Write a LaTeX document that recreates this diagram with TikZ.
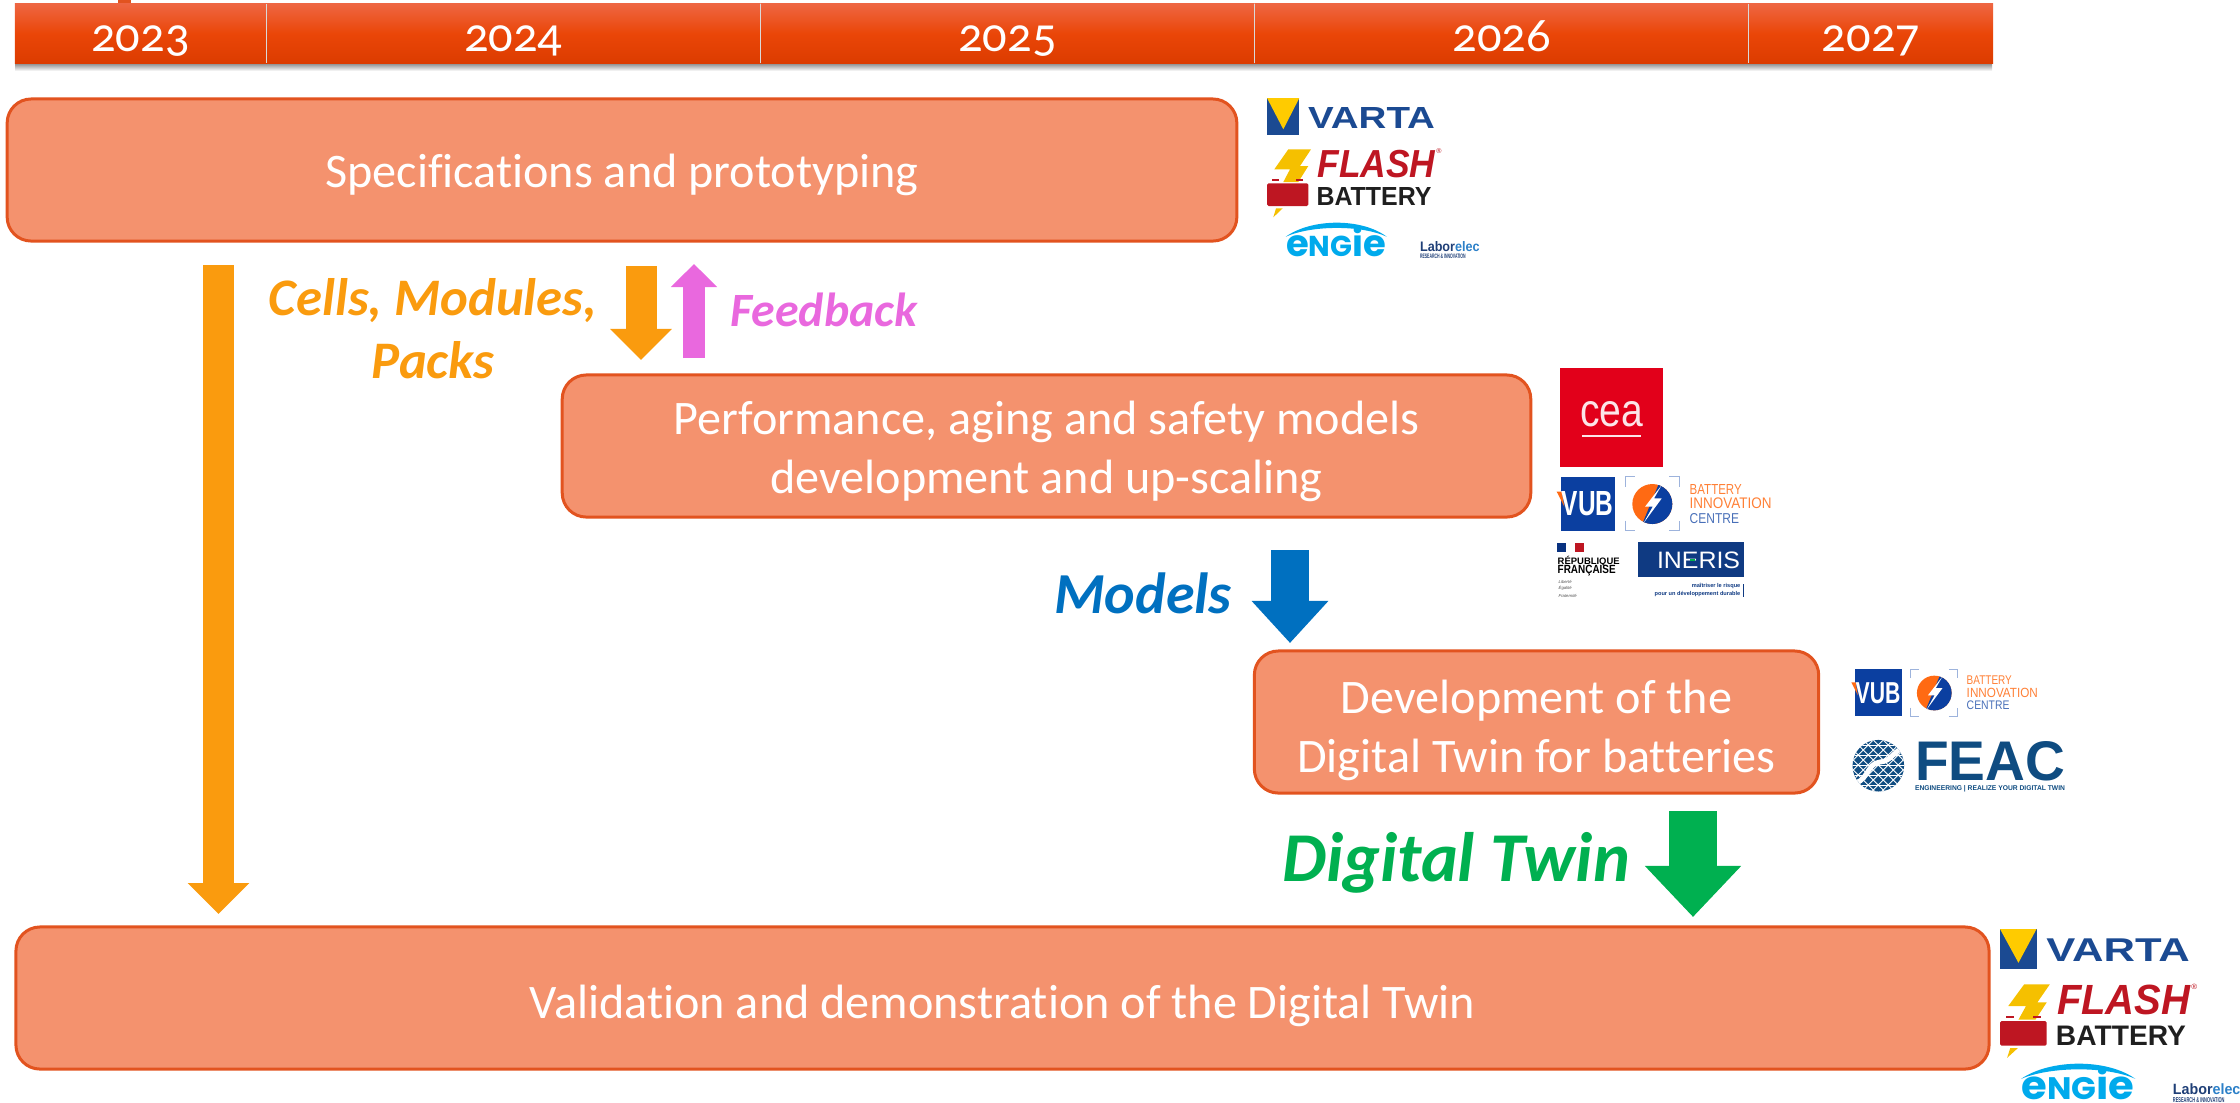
\documentclass[tikz,border=0pt]{standalone}
\usepackage{fontspec}
\setmainfont[Ligatures=NoCommon]{Carlito}
\newfontfamily\yearfont[Numbers=OldStyle]{Carlito}
\newfontfamily\logofont{Liberation Sans}
\newfontfamily\roundfont{Poppins}
\usetikzlibrary{arrows.meta, positioning, calc}

% one reference pixel
\newdimen\pxunit
\pxunit=0.01cm
\newcommand{\fittext}[3]{\resizebox{#1\pxunit}{#2\pxunit}{#3}}
\newcommand{\textdrop}[1]{\rule{0pt}{#1cm}}

\tikzset{
    logotext/.style={inner sep=0pt, font=\logofont, transform shape},
    companies/.pic={
        % Varta
        \fill[vartablue] (0,0) rectangle (32.3,36.7);
        \fill[vartayellow] (0,0) -- (32.3,0) -- (16.3,31.3) -- cycle;
        \node[logotext, vartablue] (varta) at (104.5,19.6) {\fittext{127}{21}{\bfseries VARTA}};
        % Flash Battery
        \fill[flashyellow] (21.3,51.3) -- (44,51.3) -- (33,68) -- (41.3,68) -- (31.3,84) -- (16.3,84) -- (23,71.3) -- (7.3,71.3) -- cycle;
        \fill[flashred] (5.3,80.7) rectangle (12.3,82.7);
        \fill[flashred] (29,80.7) rectangle (36.3,82.7);
        \fill[flashred, rounded corners=1.5\pxunit] (0,85.3) rectangle (41.3,108);
        \fill[flashyellow] (9,110.3) -- (15.7,110.3) -- (6.3,119.3) -- cycle;
        \node[logotext, flashred] (flash) at (109.5,65.7) {\fittext{118}{27.3}{\bfseries\itshape FLASH}};
        \node[logotext, flashred, font=\logofont\fontsize{2}{2}\selectfont] (flashmark) at (172,53.5) {®};
        \node[logotext, black!88] (battery) at (107,98.7) {\fittext{115}{18}{\bfseries BATTERY}};
        % Engie
        \fill[engieblue] (18.7,138.7) .. controls (45,120) and (95,120) .. (119.7,138.7) .. controls (95,127) and (45,127) .. cycle;
        \node[logotext, engieblue, font=\roundfont\bfseries, anchor=south] (engie) at (69,159) {\resizebox{100\pxunit}{!}{e\scalebox{.78}{NG}ie}};
        % Laborelec
        \node[logotext, labordark, anchor=west] (laborelec) at (152.3,148.7) {\fittext{59.7}{10}{\bfseries Labor\textcolor{laborlight}{elec}}};
        \node[logotext, labordark, anchor=west] (laborsub) at (152.3,158.5) {\fittext{45.7}{4.5}{\bfseries RESEARCH \& INNOVATION}};
    },
    vubgroup/.pic={
        % Vub
        \fill[vubblue] (0,0) rectangle (54,54);
        \fill[bicorange] (-4.3,15) -- (0.7,15) -- (3.3,30) -- cycle;
        \node[logotext, white] (vub) at (26.5,27) {\fittext{51.6}{24}{\bfseries VUB}};
        % Battery Innovation Centre
        \draw[bicframe, line width=0.01cm] (64,10) |- (74,0);
        \draw[bicframe, line width=0.01cm] (108,0) -| (118.3,10);
        \draw[bicframe, line width=0.01cm] (64,44) |- (74,54);
        \draw[bicframe, line width=0.01cm] (108,54) -| (118.3,44);
        \fill[bicorange] (91.3,27.3) circle (20\pxunit);
        \begin{scope}
            \clip (91.3,27.3) circle (20\pxunit);
            \fill[vubblue] (100.7,0) -- (130,0) -- (130,60) -- (76,60) -- cycle;
        \end{scope}
        \fill[white] (100.7,8.3) -- (84,30) -- (91.7,30) -- (82.3,46.7) -- (100.7,21.7) -- (93,21.7) -- cycle;
        \node[logotext, bicorange!85, anchor=west] (bicline a) at (128,12.6) {\fittext{52}{10}{BATTERY}};
        \node[logotext, bicorange!85, anchor=west] (bicline b) at (128,27) {\fittext{82}{10.7}{INNOVATION}};
        \node[logotext, vubblue!75, anchor=west] (bicline c) at (128,41.6) {\fittext{49.3}{10}{CENTRE}};
    }
}

\begin{document}
\begin{tikzpicture}[x=0.01cm, y=-0.01cm,
    every node/.style={font=\fontsize{13.7}{16.7}\selectfont},
    taskbox/.style={draw=boxedge, fill=boxfill, line width=0.03cm, rounded corners=0.24cm, text=white, align=center, inner sep=0pt, minimum height=1.42cm},
    yearcell/.style={top color=yeartop, bottom color=yearbottom, middle color=yearmid, minimum height=0.59cm, text height=0.35cm, text depth=0pt, inner sep=0pt, outer sep=0pt, text=white, font=\yearfont\fontsize{13.8}{13.8}\selectfont},
    flowlabel/.style={font=\bfseries\itshape\fontsize{#1}{#1}\selectfont, align=center, inner sep=0pt}]
    % Define consistent colors
    \definecolor{boxfill}{RGB}{244,146,110}
    \definecolor{boxedge}{RGB}{226,83,31}
    \definecolor{yeartop}{RGB}{238,102,66}
    \definecolor{yearmid}{RGB}{234,70,8}
    \definecolor{yearbottom}{RGB}{220,60,0}
    \definecolor{flowamber}{RGB}{250,155,14}
    \definecolor{flowpink}{RGB}{233,104,222}
    \definecolor{flowblue}{RGB}{0,112,192}
    \definecolor{flowgreen}{RGB}{0,176,80}
    \definecolor{vartablue}{RGB}{27,74,146}
    \definecolor{vartayellow}{RGB}{255,203,0}
    \definecolor{flashred}{RGB}{190,22,34}
    \definecolor{flashyellow}{RGB}{245,192,0}
    \definecolor{engieblue}{RGB}{0,170,236}
    \definecolor{labordark}{RGB}{31,63,119}
    \definecolor{laborlight}{RGB}{44,128,200}
    \definecolor{vubblue}{RGB}{11,63,160}
    \definecolor{bicorange}{RGB}{255,106,19}
    \definecolor{bicframe}{RGB}{157,179,220}
    \definecolor{cearred}{RGB}{226,0,26}
    \definecolor{inerisblue}{RGB}{15,58,130}
    \definecolor{feacblue}{RGB}{15,76,129}

    \useasboundingbox (0,0) rectangle (2240,1102);

    % Timeline
    \fill[boxedge] (118,0) rectangle (131,3);
    \shade[top color=black!50, bottom color=white] (15,62.5) rectangle (1992,71);
    \node[yearcell, minimum width=2.51cm] (y2023) at (140.5,33.5) {2023};
    \node[yearcell, minimum width=4.94cm, right=0pt of y2023] (y2024) {2024};
    \node[yearcell, minimum width=4.94cm, right=0pt of y2024] (y2025) {2025};
    \node[yearcell, minimum width=4.94cm, right=0pt of y2025] (y2026) {2026};
    \node[yearcell, minimum width=2.44cm, right=0pt of y2026] (y2027) {2027};
    \foreach \cell in {y2023,y2024,y2025,y2026}
        \draw[white!70!gray, line width=0.01cm] (\cell.north east) -- (\cell.south east);

    % Task boxes
    \node[taskbox, minimum width=12.29cm] (specs) at (622,170) {\textdrop{0.44}Specifications and prototyping};
    \node[taskbox, minimum width=9.68cm] (models) at (1046.5,446) {\textdrop{0.44}Performance, aging and safety models\\development and up-scaling};
    \node[taskbox, minimum width=5.64cm] (twin) at (1536.5,722) {\textdrop{0.5}Development of the\\Digital Twin for batteries};
    \node[taskbox, minimum width=19.72cm] (validation) at (1002.5,998) {\textdrop{0.5}Validation and demonstration of the Digital Twin};

    % Arrow ends
    \coordinate (long top) at (218.5,265);
    \coordinate (long tip) at (218.5,914);
    \coordinate (cells top) at (641,266);
    \coordinate (cells tip) at (641,360);
    \coordinate (feed bottom) at (694,358);
    \coordinate (feed tip) at (694,264);
    \coordinate (model top) at (1290,550);
    \coordinate (model tip) at (1290,643);
    \coordinate (twin top) at (1693,811);
    \coordinate (twin tip) at (1693,917);

    % Block arrows
    \draw[flowamber, line width=0.31cm, -{Triangle[length=0.31cm, width=0.6cm]}] (long top) -- (long tip);
    \draw[flowamber, line width=0.31cm, -{Triangle[length=0.31cm, width=0.6cm]}] (cells top) -- (cells tip);
    \draw[flowpink, line width=0.22cm, -{Triangle[length=0.23cm, width=0.45cm]}] (feed bottom) -- (feed tip);
    \draw[flowblue, line width=0.38cm, -{Triangle[length=0.42cm, width=0.74cm]}] (model top) -- (model tip);
    \draw[flowgreen, line width=0.48cm, -{Triangle[length=0.51cm, width=0.93cm]}] (twin top) -- (twin tip);

    % Labels for arrows
    \node[flowlabel=15, flowamber] (cellslabel) at (433,329) {Cells, Modules,\\[0.2em]Packs};
    \node[flowlabel=13.6, flowpink] (feedlabel) at (824,310) {Feedback};
    \node[flowlabel=16.5, flowblue] (modellabel) at (1143,593) {Models};
    \node[flowlabel=19.9, flowgreen] (twinlabel) at (1456,863) {Digital Twin};

    % Partner logos
    \pic (partners a) at (1267,98) {companies};
    \pic (partners b) [xscale=1.13, yscale=1.08] at (2000,929) {companies};

    % Cea
    \fill[cearred] (1560,368) rectangle (1663,467);
    \node[logotext, white!90!cearred] (cea) at (1611.5,414.5) {\fittext{63}{25}{cea}};
    \fill[white!90!cearred] (1582,434.7) rectangle (1641,436.7);

    \pic (vub a) at (1561,476.7) {vubgroup};
    \pic (vub b) [scale=0.868] at (1855,669.3) {vubgroup};

    % Republique francaise
    \fill[vubblue!80!black] (1557,542.7) rectangle (1566,552.3);
    \fill[flashred] (1575,542.7) rectangle (1584,552.3);
    \node[logotext, anchor=west] (republique) at (1557,560.8) {\fittext{62}{8.3}{\bfseries RÉPUBLIQUE}};
    \node[logotext, anchor=west] (francaise) at (1557,570.8) {\fittext{58}{8.3}{\bfseries FRANÇAISE}};
    \node[logotext, anchor=west, text=black!70, font=\logofont\itshape\fontsize{1.2}{1.2}\selectfont] (liberte) at (1558,581.7) {Liberté};
    \node[logotext, anchor=west, text=black!70, font=\logofont\itshape\fontsize{1.2}{1.2}\selectfont] (egalite) at (1558,588.3) {Égalité};
    \node[logotext, anchor=west, text=black!70, font=\logofont\itshape\fontsize{1.2}{1.2}\selectfont] (fraternite) at (1558,595.7) {Fraternité};

    % Ineris
    \fill[inerisblue] (1638,542.3) rectangle (1744,577.3);
    \node[logotext, white] (ineris) at (1698.5,560) {\fittext{83}{16.6}{INERIS}};
    \fill[flowgreen] (1690,558.5) rectangle (1695,560.5);
    \node[logotext, inerisblue, anchor=east, font=\logofont\bfseries\fontsize{1.6}{1.6}\selectfont] (inerisa) at (1741,586) {maîtriser le risque};
    \node[logotext, inerisblue, anchor=east, font=\logofont\bfseries\fontsize{1.6}{1.6}\selectfont] (inerisb) at (1741,594) {pour un développement durable};
    \draw[inerisblue, line width=0.01cm] (1743.7,584) -- (1743.7,597);

    % Feac
    \fill[feacblue] (1878.3,765.7) circle (25.8\pxunit);
    \begin{scope}
        \clip (1878.3,765.7) circle (25.8\pxunit);
        \foreach \shift in {-60,-50,...,60} {
            \draw[white, line width=0.009cm] (1848,765.7+\shift) -- (1908,765.7+\shift);
            \draw[white, line width=0.009cm] (1878.3+\shift-30,795) -- (1878.3+\shift+30,735);
            \draw[white, line width=0.009cm] (1878.3+\shift-30,735) -- (1878.3+\shift+30,795);
        }
        \draw[white, line width=0.05cm] (1850,783) .. controls (1868,785) and (1866,763) .. (1880,762) .. controls (1892,761) and (1892,752) .. (1906,746);
    \end{scope}
    \node[logotext, feacblue] (feac) at (1990,761) {\fittext{150}{39}{\bfseries FEAC}};
    \node[logotext, feacblue] (feacsub) at (1990,788.5) {\fittext{150}{5}{\bfseries ENGINEERING | REALIZE YOUR DIGITAL TWIN}};
\end{tikzpicture}
\end{document}
